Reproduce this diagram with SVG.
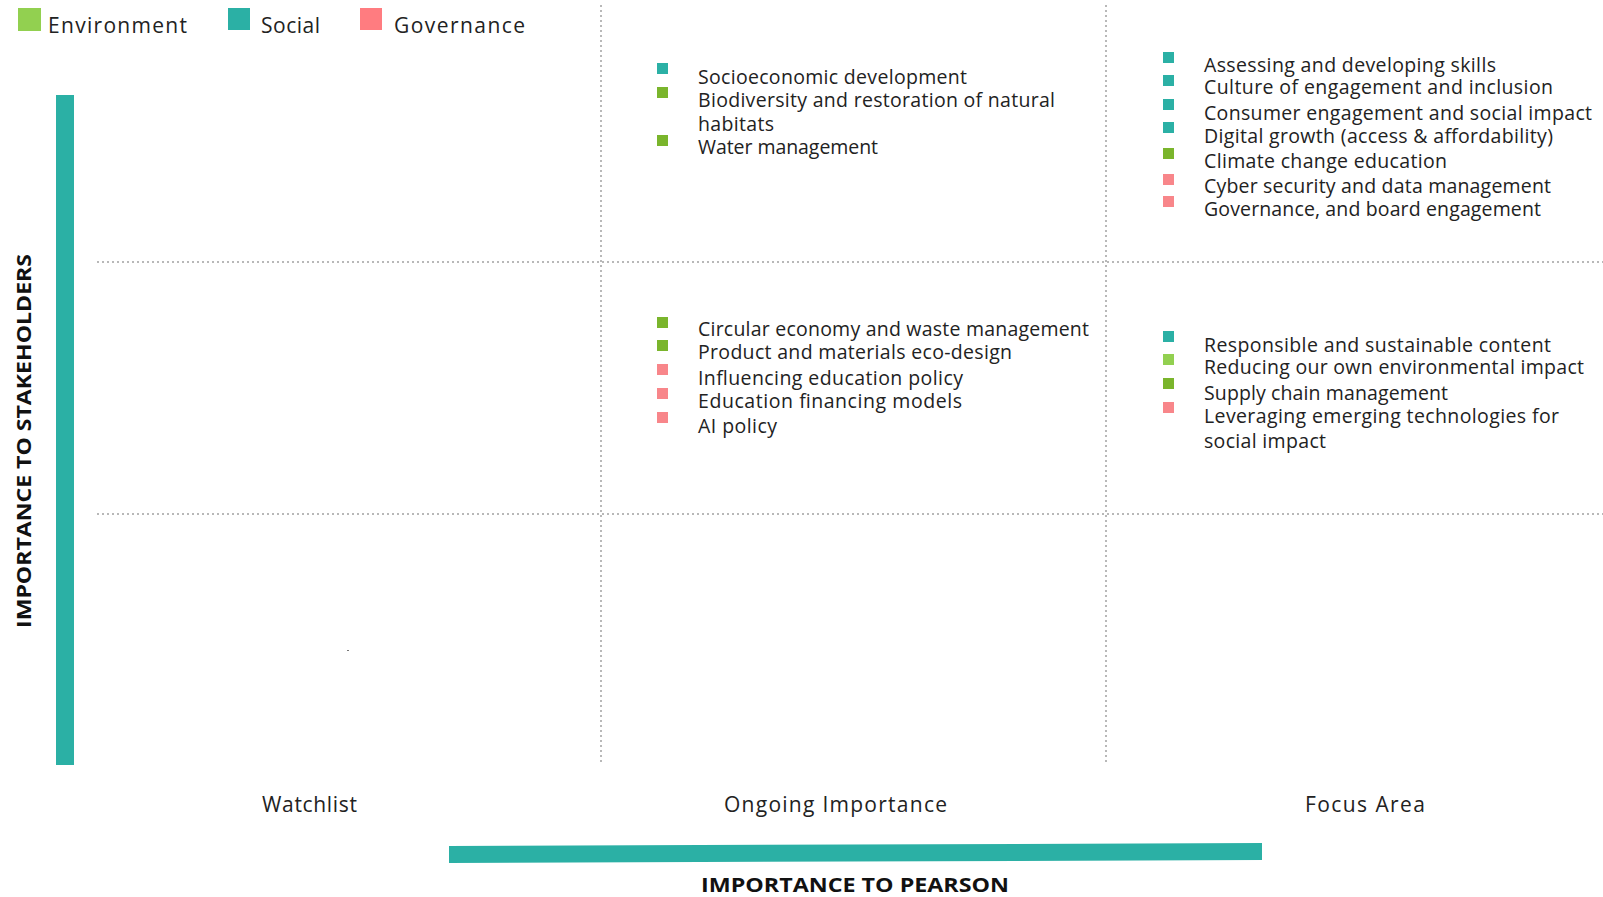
<svg xmlns="http://www.w3.org/2000/svg" width="1603" height="897" viewBox="0 0 1603 897">
<style>
text{font-family:"Open Sans","Liberation Sans",sans-serif;fill:#222}
.lg{font-size:21px}
.it{font-size:19.5px}
.ax{font-size:21px}
.tt{font-size:20px;font-weight:bold;fill:#111}
.grid{stroke:#b8b8b8;stroke-width:2;stroke-dasharray:2 3;fill:none}
.s{fill:#2bb0a5}.e{fill:#7ab52c}.el{fill:#92d050}.g{fill:#f8868a}
</style>
<rect width="1603" height="897" fill="#fff"/>
<g id="legend">
<rect x="18" y="8" width="23" height="23" fill="#92d050"/>
<text class="lg" x="48" y="33" textLength="139" lengthAdjust="spacing">Environment</text>
<rect x="228" y="8" width="22" height="22" fill="#2bb0a5"/>
<text class="lg" x="261" y="33" textLength="59" lengthAdjust="spacing">Social</text>
<rect x="360" y="8" width="22" height="22" fill="#ff7c80"/>
<text class="lg" x="394" y="33" textLength="131" lengthAdjust="spacing">Governance</text>
</g>
<g id="connectors">
<line class="grid" x1="601" y1="5" x2="601" y2="765"/>
<line class="grid" x1="1106" y1="5" x2="1106" y2="765"/>
<line class="grid" x1="97" y1="262" x2="1603" y2="262"/>
<line class="grid" x1="97" y1="514" x2="1603" y2="514"/>
</g>
<g id="y-axis">
<rect x="56" y="95" width="18" height="670" fill="#2bb0a5"/>
<text class="tt" transform="translate(31,628) rotate(-90)" textLength="374" lengthAdjust="spacingAndGlyphs">IMPORTANCE  TO STAKEHOLDERS</text>
</g>
<g id="x-axis">
<polygon points="449,846 1262,843 1262,860 449,863" fill="#2bb0a5"/>
<text class="tt" x="701" y="892" textLength="308" lengthAdjust="spacingAndGlyphs">IMPORTANCE  TO PEARSON</text>
<text class="ax" x="262" y="812" textLength="95" lengthAdjust="spacing">Watchlist</text>
<text class="ax" x="724" y="812" textLength="223" lengthAdjust="spacing">Ongoing Importance</text>
<text class="ax" x="1305" y="812" textLength="120" lengthAdjust="spacing">Focus Area</text>
</g>
<rect x="347" y="650" width="2" height="1" fill="#777"/>
<g id="ongoing-high">
<rect class="s" x="657" y="63" width="11" height="11"/>
<rect class="e" x="657" y="87" width="11" height="11"/>
<rect class="e" x="657" y="135" width="11" height="11"/>
<text class="it" x="698" y="84" textLength="269" lengthAdjust="spacing">Socioeconomic development</text>
<text class="it" x="698" y="107" textLength="357" lengthAdjust="spacing">Biodiversity and restoration  of natural</text>
<text class="it" x="698" y="131" textLength="76" lengthAdjust="spacing">habitats</text>
<text class="it" x="698" y="154" textLength="180" lengthAdjust="spacing">Water management</text>
</g>
<g id="ongoing-mid">
<rect class="e" x="657" y="317" width="11" height="11"/>
<rect class="e" x="657" y="340" width="11" height="11"/>
<rect class="g" x="657" y="364" width="11" height="11"/>
<rect class="g" x="657" y="388" width="11" height="11"/>
<rect class="g" x="657" y="412" width="11" height="11"/>
<text class="it" x="698" y="336" textLength="391" lengthAdjust="spacing">Circular economy and waste management</text>
<text class="it" x="698" y="359" textLength="314" lengthAdjust="spacing">Product and materials  eco-design</text>
<text class="it" x="698" y="385" textLength="265" lengthAdjust="spacing">Influencing education policy</text>
<text class="it" x="698" y="408" textLength="264" lengthAdjust="spacing">Education financing  models</text>
<text class="it" x="698" y="433" textLength="79" lengthAdjust="spacing">AI policy</text>
</g>
<g id="focus-high">
<rect class="s" x="1163" y="52" width="11" height="11"/>
<rect class="s" x="1163" y="75" width="11" height="11"/>
<rect class="s" x="1163" y="99" width="11" height="11"/>
<rect class="s" x="1163" y="122" width="11" height="11"/>
<rect class="e" x="1163" y="148" width="11" height="11"/>
<rect class="g" x="1163" y="174" width="11" height="11"/>
<rect class="g" x="1163" y="196" width="11" height="11"/>
<text class="it" x="1204" y="72" textLength="292" lengthAdjust="spacing">Assessing and developing skills</text>
<text class="it" x="1204" y="94" textLength="349" lengthAdjust="spacing">Culture of engagement  and inclusion</text>
<text class="it" x="1204" y="120" textLength="388" lengthAdjust="spacing">Consumer engagement  and social impact</text>
<text class="it" x="1204" y="143" textLength="349" lengthAdjust="spacing">Digital growth  (access &amp; affordability)</text>
<text class="it" x="1204" y="168" textLength="243" lengthAdjust="spacing">Climate change education</text>
<text class="it" x="1204" y="193" textLength="347" lengthAdjust="spacing">Cyber security and data management</text>
<text class="it" x="1204" y="216" textLength="337" lengthAdjust="spacing">Governance,  and board engagement</text>
</g>
<g id="focus-mid">
<rect class="s" x="1163" y="331" width="11" height="11"/>
<rect class="el" x="1163" y="354" width="11" height="11"/>
<rect class="e" x="1163" y="378" width="11" height="11"/>
<rect class="g" x="1163" y="402" width="11" height="11"/>
<text class="it" x="1204" y="352" textLength="347" lengthAdjust="spacing">Responsible and sustainable content</text>
<text class="it" x="1204" y="374" textLength="380" lengthAdjust="spacing">Reducing our own environmental  impact</text>
<text class="it" x="1204" y="400" textLength="244" lengthAdjust="spacing">Supply chain management</text>
<text class="it" x="1204" y="423" textLength="355" lengthAdjust="spacing">Leveraging  emerging  technologies for</text>
<text class="it" x="1204" y="448" textLength="122" lengthAdjust="spacing">social impact</text>
</g>
</svg>
